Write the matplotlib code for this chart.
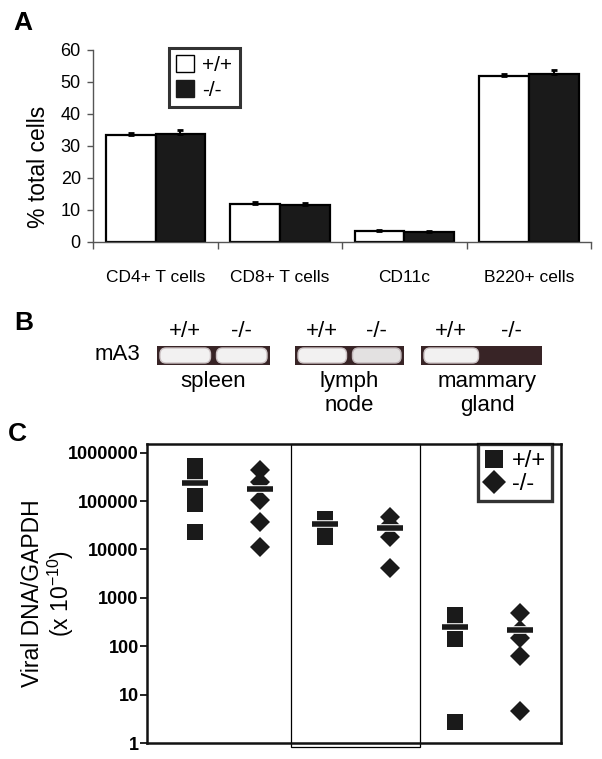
import numpy as np
import matplotlib
matplotlib.use("Agg")
import matplotlib.pyplot as plt
from matplotlib.patches import Patch, Rectangle, FancyBboxPatch
from matplotlib.lines import Line2D
import matplotlib.transforms as mtransforms
from matplotlib.ticker import FixedLocator, NullLocator

plt.rcParams['font.family'] = ['Liberation Sans', 'DejaVu Sans']
plt.rcParams['mathtext.fontset'] = 'custom'
plt.rcParams['mathtext.rm'] = 'Liberation Sans'

# ---------------- data ----------------
# Panel A
cell_types = ["CD4+ T cells", "CD8+ T cells", "CD11c", "B220+ cells"]
wt_pct = [33.3, 11.9, 3.4, 52.0]
ko_pct = [33.8, 11.6, 3.0, 52.4]
wt_err = [0.8, 0.5, 0.4, 0.6]
ko_err = [1.1, 0.6, 0.4, 1.3]
genotypes = ["+/+", "-/-"]
a_yticks = [0, 10, 20, 30, 40, 50, 60]

# Panel B
tissues_b = ["spleen", "lymph\nnode", "mammary\ngland"]
band_signal = [[1.0, 1.0], [1.0, 0.92], [1.0, 0.0]]

# Panel C
groups_c = ["spleen +/+", "spleen -/-", "lymph +/+", "lymph -/-", "mammary +/+", "mammary -/-"]
spleen_wt = [5.2e5, 4.0e5, 1.27e5, 8.7e4, 2.3e4]
spleen_ko = [4.4e5, 2.5e5, 1.05e5, 3.7e4, 1.1e4]
lymph_wt = [4.3e4, 3.7e4, 1.8e4]
lymph_ko = [4.6e4, 3.2e4, 1.8e4, 4.1e3]
mammary_wt = [450, 380, 140, 2.7]
mammary_ko = [478, 215, 145, 63, 4.65]
group_means = [2.4e5, 1.74e5, 3.3e4, 2.73e4, 250, 215]
c_yticks = [1, 10, 100, 1000, 10000, 100000, 1000000]

W, H = 602, 759
fig = plt.figure(figsize=(W / 100, H / 100), dpi=100)


def fx(px):
    return px / W


def fy(py):
    return 1 - py / H


# ---------------- Panel A ----------------
axA = fig.add_axes([fx(93.3), fy(242), fx(591) - fx(93.3), fy(50) - fy(242)])
x = np.arange(len(cell_types))
bw = 0.4
black = '#1a1a1a'
axA.bar(x - bw / 2, wt_pct, width=bw, color='white', edgecolor='black', linewidth=1.6, zorder=2)
axA.bar(x + bw / 2, ko_pct, width=bw, color=black, edgecolor='black', linewidth=1.6, zorder=2)
axA.errorbar(x - bw / 2, wt_pct, yerr=[np.zeros(4), wt_err], fmt='none', ecolor='black',
             elinewidth=1.5, capsize=2.2, capthick=2, zorder=3)
axA.errorbar(x + bw / 2, ko_pct, yerr=[np.zeros(4), ko_err], fmt='none', ecolor='black',
             elinewidth=1.5, capsize=2.2, capthick=2, zorder=3)
axA.set_xlim(-0.5, len(cell_types) - 0.5)
axA.set_ylim(0, 60)
axA.set_yticks(a_yticks)
axA.tick_params(axis='y', labelsize=13, length=4, width=1, color='#555555', pad=5)
axA.set_xticks(x)
axA.set_xticklabels(cell_types, fontsize=12.5)
axA.tick_params(axis='x', which='major', length=0, pad=20)
axA.xaxis.set_minor_locator(FixedLocator(np.arange(-0.5, len(cell_types), 1.0)))
axA.tick_params(axis='x', which='minor', length=5, width=1, color='#555555')
for s in ['top', 'right']:
    axA.spines[s].set_visible(False)
for s in ['left', 'bottom']:
    axA.spines[s].set_color('#555555')
    axA.spines[s].set_linewidth(1.0)
axA.set_ylabel("% total cells", fontsize=16.5)
axA.yaxis.set_label_coords(-0.088, 0.39)
legA = axA.legend(handles=[Patch(facecolor='white', edgecolor='black', linewidth=1),
                           Patch(facecolor=black, edgecolor=black)],
                  labels=genotypes, loc='upper left', bbox_to_anchor=(fx(169), fy(48)),
                  bbox_transform=fig.transFigure, fontsize=15, frameon=True, fancybox=False,
                  handlelength=0.85, handleheight=0.85, handletextpad=0.4, borderpad=0.35,
                  labelspacing=0.25, borderaxespad=0)
legA.get_frame().set_edgecolor('black')
legA.get_frame().set_linewidth(2.2)
fig.text(fx(13), fy(23), "A", fontsize=19, fontweight='bold', va='center', ha='left')

# ---------------- Panel B ----------------
axB = fig.add_axes([0, fy(420), 1, fy(300) - fy(420)])
axB.set_xlim(0, W)
axB.set_ylim(420, 300)
axB.axis('off')
gel_x = [(157, 270), (295, 404), (421, 542)]
gel_y0, gel_y1 = 346, 365
bg = np.array([0.22, 0.14, 0.15])
bandc = np.array([0.95, 0.945, 0.945])
edgec = np.array([0.80, 0.76, 0.77])
for (g0, g1), sig, tname in zip(gel_x, band_signal, tissues_b):
    axB.add_patch(Rectangle((g0, gel_y0), g1 - g0, gel_y1 - gel_y0, facecolor=bg,
                            edgecolor='none'))
    lane_w = (g1 - g0) / 2
    for k, s in enumerate(sig):
        lx0 = g0 + k * lane_w
        cx = lx0 + lane_w / 2
        axB.text(cx, 332, genotypes[k], fontsize=16, ha='center', va='center')
        if s > 0:
            col = bg + (bandc - bg) * s
            ec = bg + (edgec - bg) * s
            axB.add_patch(FancyBboxPatch((lx0 + 7, gel_y0 + 6), lane_w - 14, gel_y1 - gel_y0 - 12,
                                         boxstyle="round,pad=4,rounding_size=6",
                                         facecolor=col, edgecolor=ec, linewidth=1.0))
    axB.text((g0 + g1) / 2 + (6 if 'mammary' in tname else 0), 371, tname, fontsize=16,
             ha='center', va='top', linespacing=1.2)
axB.text(140, 355, "mA3", fontsize=16, ha='right', va='center')
fig.text(fx(14), fy(323), "B", fontsize=19, fontweight='bold', va='center', ha='left')

# ---------------- Panel C ----------------
axC = fig.add_axes([fx(147), fy(743), fx(561) - fx(147), fy(444) - fy(743)])
axC.set_yscale('log')
series = [spleen_wt, spleen_ko, lymph_wt, lymph_ko, mammary_wt, mammary_ko]
for i, vals in enumerate(series):
    mk = 's' if i % 2 == 0 else 'D'
    ms = 11 if mk == 's' else 10.5
    axC.plot([i] * len(vals), vals, linestyle='none', marker=mk, ms=ms, color=black,
             markeredgewidth=0, zorder=2)
xi = np.arange(len(group_means))
axC.plot(xi, group_means, linestyle='none', marker='_', ms=20.5, mew=5.5, color='white', zorder=3)
axC.plot(xi, group_means, linestyle='none', marker='_', ms=18.5, mew=4, color=black, zorder=4)
axC.set_xlim(-0.73, 5.63)
axC.set_ylim(1, 10 ** 6.18)
axC.set_xticks([])
axC.yaxis.set_major_locator(FixedLocator(c_yticks))
axC.yaxis.set_minor_locator(NullLocator())
axC.set_yticklabels([str(v) for v in c_yticks], fontsize=13, fontweight='bold')
axC.tick_params(axis='y', length=5, width=1.2, pad=1)
for s in axC.spines.values():
    s.set_linewidth(1.8)
    s.set_color('#111111')
trans = mtransforms.blended_transform_factory(axC.transData, axC.transAxes)
axC.add_patch(Rectangle((1.48, -0.012), 3.46 - 1.48, 1.012, transform=trans, fill=False,
                        edgecolor='black', linewidth=0.9, clip_on=False, zorder=1))
axC.set_ylabel("Viral DNA/GAPDH\n(x 10$^{\\mathregular{-10}}$)", fontsize=16.5, linespacing=1.05)
axC.yaxis.set_label_coords(-0.172, 0.5)
legC = axC.legend(handles=[Line2D([], [], linestyle='none', marker='s', ms=13, color=black, mew=0),
                           Line2D([], [], linestyle='none', marker='D', ms=12, color=black, mew=0)],
                  labels=genotypes, loc='upper right', bbox_to_anchor=(fx(552), fy(444)),
                  bbox_transform=fig.transFigure, fontsize=17, frameon=True, fancybox=False,
                  handlelength=0.9, handletextpad=0.3, borderpad=0.25, labelspacing=0.05,
                  borderaxespad=0)
legC.get_frame().set_edgecolor('black')
legC.get_frame().set_linewidth(2.4)
fig.text(fx(8), fy(434), "C", fontsize=19, fontweight='bold', va='center', ha='left')

fig.savefig("out.png", dpi=100)
